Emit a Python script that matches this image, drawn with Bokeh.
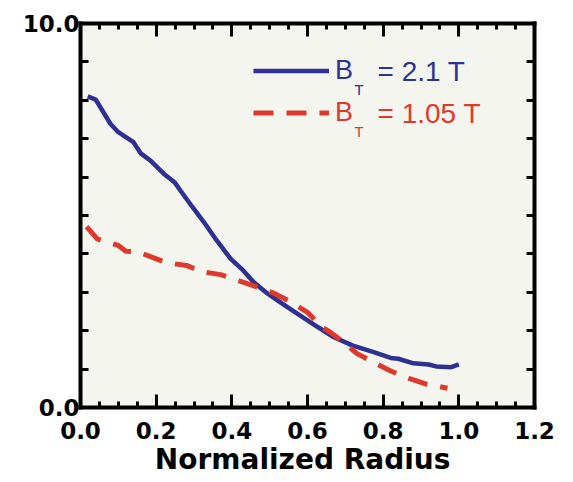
from bokeh.plotting import figure
from bokeh.models import (LinearAxis, FixedTicker, PrintfTickFormatter,
                          CustomJSTickFormatter, Legend, LegendItem, Label, Range1d)
from bokeh.embed import file_html
from bokeh.resources import INLINE

# ---- data ----
radius_21 = [0.019, 0.04, 0.079, 0.10, 0.14, 0.16, 0.185, 0.22, 0.25, 0.264, 0.29, 0.326,
             0.36, 0.397, 0.43, 0.458, 0.49, 0.54, 0.58, 0.62, 0.67, 0.72, 0.775, 0.82,
             0.84, 0.88, 0.92, 0.94, 0.98, 1.0]
bt_21 = [8.10, 8.02, 7.39, 7.17, 6.91, 6.61, 6.43, 6.09, 5.85, 5.65, 5.30, 4.83,
         4.35, 3.87, 3.57, 3.26, 3.00, 2.66, 2.40, 2.14, 1.83, 1.61, 1.44, 1.29,
         1.27, 1.15, 1.12, 1.07, 1.05, 1.12]

radius_105 = [0.016, 0.044, 0.06, 0.10, 0.12, 0.15, 0.19, 0.22, 0.25, 0.28, 0.32, 0.37,
              0.41, 0.46, 0.51, 0.55, 0.60, 0.64, 0.66, 0.69, 0.73, 0.78, 0.82, 0.87,
              0.91, 0.97]
bt_105 = [4.71, 4.39, 4.34, 4.22, 4.07, 4.06, 3.91, 3.80, 3.74, 3.70, 3.54, 3.46,
          3.33, 3.16, 2.98, 2.78, 2.48, 2.08, 1.96, 1.74, 1.41, 1.15, 0.95, 0.75,
          0.62, 0.50]

x_range = (0.0, 1.2)
y_range = (0.0, 10.0)
x_major_ticks = [0.0, 0.2, 0.4, 0.6, 0.8, 1.0, 1.2]
x_minor_ticks = [0.05, 0.10, 0.15, 0.25, 0.30, 0.35, 0.45, 0.50, 0.55, 0.65, 0.70, 0.75,
                 0.85, 0.90, 0.95, 1.05, 1.10, 1.15]
y_major_ticks = [0.0, 10.0]
y_minor_ticks = [1, 2, 3, 4, 5, 6, 7, 8, 9]
series_labels = ["2.1 T", "1.05 T"]
x_title = "Normalized  Radius"

BLUE = "#2E3192"
RED = "#DD3A2E"
BG = "#F4F5EE"
TICK_FONT = "DejaVu Sans"

p = figure(width=573, height=482, x_range=Range1d(*x_range), y_range=Range1d(*y_range),
           output_backend="svg", toolbar_location=None,
           x_axis_location=None, y_axis_location=None,
           min_border_left=80, min_border_right=39, min_border_top=23, min_border_bottom=75)
p.background_fill_color = BG
p.border_fill_color = "white"
p.outline_line_color = None
p.grid.visible = False


def style(ax, major_in, minor_in):
    ax.axis_line_width = 4
    ax.axis_line_color = "black"
    ax.axis_line_cap = "square"
    ax.major_tick_line_width = 3
    ax.minor_tick_line_width = 3
    ax.major_tick_line_color = "black"
    ax.minor_tick_line_color = "black"
    ax.major_tick_in = major_in
    ax.major_tick_out = 0
    ax.minor_tick_in = minor_in
    ax.minor_tick_out = 0
    ax.major_label_text_font = TICK_FONT
    ax.major_label_text_font_style = "bold"
    ax.major_label_text_font_size = "23px"
    ax.major_label_text_color = "black"


def xticker():
    return FixedTicker(ticks=x_major_ticks, minor_ticks=x_minor_ticks)


def yticker():
    return FixedTicker(ticks=y_major_ticks, minor_ticks=y_minor_ticks)


bottom = LinearAxis(ticker=xticker(), formatter=PrintfTickFormatter(format="%.1f"))
style(bottom, 13, 6)
bottom.major_label_standoff = 14
bottom.axis_label = x_title
bottom.axis_label_text_font = TICK_FONT
bottom.axis_label_text_font_style = "bold"
bottom.axis_label_text_font_size = "28px"
bottom.axis_label_text_color = "black"
bottom.axis_label_standoff = 1
p.add_layout(bottom, "below")

left = LinearAxis(ticker=yticker(), formatter=PrintfTickFormatter(format="%.1f"))
style(left, 8, 8)
left.major_label_standoff = 1
p.add_layout(left, "left")

top = LinearAxis(ticker=xticker(), formatter=CustomJSTickFormatter(code="return ''"))
style(top, 13, 6)
top.major_label_standoff = 0
p.add_layout(top, "above")

right = LinearAxis(ticker=yticker(), formatter=CustomJSTickFormatter(code="return ''"))
style(right, 8, 8)
right.major_label_standoff = 0
p.add_layout(right, "right")

blue = p.line(radius_21, bt_21, line_color=BLUE, line_width=4.5, line_join="round")
red = p.line(radius_105, bt_105, line_color=RED, line_width=5, line_dash="20 13")

for rend, color, loc, lab, ysub, ytxt in [
        (blue, BLUE, (173, 321.5), series_labels[0], 318.5, 335.8),
        (red, RED, (173, 279.5), series_labels[1], 276, 294.5)]:
    leg = Legend(items=[LegendItem(label="B", renderers=[rend])], location=loc,
                 padding=0, margin=0, glyph_width=76, glyph_height=31, label_height=31,
                 label_standoff=6, border_line_color=None, background_fill_alpha=0,
                 label_text_font="Liberation Sans", label_text_font_size="27px",
                 label_text_color=color)
    p.add_layout(leg, "center")
    p.add_layout(Label(x=274, y=ysub, x_units="screen", y_units="screen", text="T",
                       text_font="Liberation Sans", text_font_size="15px",
                       text_color=color, text_baseline="middle"))
    p.add_layout(Label(x=297, y=ytxt, x_units="screen", y_units="screen", text="= " + lab,
                       text_font="Liberation Sans", text_font_size="28px",
                       text_color=color, text_baseline="middle"))

open("out.html", "w").write(file_html(p, INLINE))
